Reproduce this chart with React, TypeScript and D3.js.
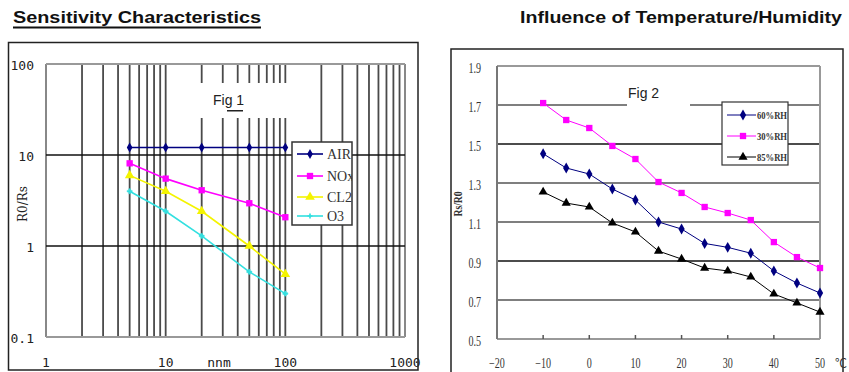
import React from 'react';
import * as d3 from 'd3';

// ---------- Fig 1 data ----------
const gasConc = [5, 10, 20, 50, 100];
const airValues = [12.1, 12.1, 12.1, 12.1, 12.1];
const noxValues = [8.1, 5.5, 4.1, 2.95, 2.07];
const cl2Values = [5.97, 4.0, 2.41, 1.0, 0.49];
const o3Values = [4.0, 2.41, 1.29, 0.52, 0.3];
const yTicksLeft = [100, 10, 1, 0.1];
const xTicksLeft = [1, 10, 100, 1000];

// ---------- Fig 2 data ----------
const temps = [-10, -5, 0, 5, 10, 15, 20, 25, 30, 35, 40, 45, 50];
const rh60 = [1.45, 1.377, 1.346, 1.269, 1.213, 1.1, 1.064, 0.99, 0.97, 0.94, 0.849, 0.787, 0.736];
const rh30 = [1.71, 1.623, 1.582, 1.49, 1.423, 1.305, 1.249, 1.177, 1.146, 1.11, 0.997, 0.92, 0.864];
const rh85 = [1.254, 1.197, 1.177, 1.095, 1.049, 0.951, 0.91, 0.864, 0.849, 0.818, 0.731, 0.685, 0.638];
const yTicksRight = [0.5, 0.7, 0.9, 1.1, 1.3, 1.5, 1.7, 1.9];
const xTicksRight = [-20, -10, 0, 10, 20, 30, 40, 50];

const leftSeries = [
  { name: 'AIR', values: airValues, color: '#000080', symbol: d3.symbolDiamond, size: 28 },
  { name: 'NOx', values: noxValues, color: '#ff00ff', symbol: d3.symbolSquare, size: 40 },
  { name: 'CL2', values: cl2Values, color: '#f4f400', symbol: d3.symbolTriangle, size: 40 },
  { name: 'O3', values: o3Values, color: '#33e0e0', symbol: d3.symbolCross, size: 14 },
];

const rightSeries = [
  { name: '60%RH', values: rh60, color: '#000080', symbol: d3.symbolDiamond, size: 34 },
  { name: '30%RH', values: rh30, color: '#ff00ff', symbol: d3.symbolSquare, size: 40 },
  { name: '85%RH', values: rh85, color: '#000000', symbol: d3.symbolTriangle, size: 36 },
];

export default function App() {
  // Left scales
  const xL = d3.scaleLog().domain([1, 1000]).range([46, 405]);
  const yL = d3.scaleLog().domain([0.1, 100]).range([337, 64]);
  const vLines: number[] = [];
  for (let d = 1; d < 1000; d *= 10) for (let k = 1; k <= 9; k++) vLines.push(d * k);
  vLines.push(1000);

  // Right scales
  const xR = d3.scaleLinear().domain([-20, 50]).range([497, 820]);
  const yR = d3.scaleLinear().domain([0.5, 1.9]).range([339, 66]);

  const lineL = (vals: number[]) =>
    d3.line<number>().x((_, i) => xL(gasConc[i])).y((v) => yL(v))(vals) || '';
  const lineR = (vals: number[]) =>
    d3.line<number>().x((_, i) => xR(temps[i])).y((v) => yR(v))(vals) || '';

  const legL = { x: 292, y: 142, w: 60, h: 83 };
  const legLRows = [154, 176, 197, 216];
  const legR = { x: 722, y: 102, w: 66, h: 63 };
  const legRRows = [115, 136, 157];

  const darkLines = [0.9, 1.5];

  return (
    <div style={{ position: 'absolute', left: 0, top: 0 }}>
      <svg width={849} height={372} style={{ display: 'block', background: '#fff' }}>
        <defs>
          <clipPath id="legLclip">
            <rect x={legL.x} y={legL.y} width={legL.w} height={legL.h} />
          </clipPath>
        </defs>
        {/* Titles */}
        <text x={13} y={23} fontFamily="Liberation Sans, Arial, sans-serif" fontWeight="bold" fontSize={16}
          textLength={248} lengthAdjust="spacingAndGlyphs" fill="#111">Sensitivity Characteristics</text>
        <rect x={13} y={26.5} width={248} height={2} fill="#111" />
        <text x={520} y={23} fontFamily="Liberation Sans, Arial, sans-serif" fontWeight="bold" fontSize={16}
          textLength={322} lengthAdjust="spacingAndGlyphs" fill="#111">Influence of Temperature/Humidity</text>

        {/* ---------------- Left chart ---------------- */}
        <rect x={8.5} y={42.5} width={409.5} height={327.5} fill="#fff" stroke="#222" strokeWidth={1.5} />
        {vLines.map((v, i) => (
          <line key={'v' + i} x1={xL(v)} x2={xL(v)} y1={yL(100)} y2={yL(0.1)}
            stroke={v === 1 || v === 1000 ? '#888' : '#4a4a4a'} strokeWidth={v === 1 || v === 1000 ? 2 : 1.8} />
        ))}
        {yTicksLeft.map((t) => (
          <line key={'h' + t} x1={xL(1)} x2={xL(1000)} y1={yL(t)} y2={yL(t)}
            stroke={t === 10 || t === 1 ? '#111' : '#999'} strokeWidth={t === 10 || t === 1 ? 1.5 : 2} />
        ))}
        {/* Fig 1 label box */}
        <rect x={170} y={83} width={120} height={35} fill="#fff" />
        <text x={213} y={105} fontFamily="Liberation Sans, Arial, sans-serif" fontSize={14} fill="#222">Fig 1</text>
        <rect x={227} y={110} width={16} height={1.5} fill="#222" />

        {yTicksLeft.map((t) => (
          <text key={'yl' + t} x={34} y={yL(t) + 6} textAnchor="end" fontFamily="DejaVu Sans Mono, monospace"
            fontSize={13} fill="#222">{String(t)}</text>
        ))}
        {xTicksLeft.map((t) => (
          <text key={'xl' + t} x={xL(t)} y={367} textAnchor="middle" fontFamily="DejaVu Sans Mono, monospace"
            fontSize={13} fill="#222">{String(t)}</text>
        ))}
        <text x={219} y={367} textAnchor="middle" fontFamily="DejaVu Sans Mono, monospace" fontSize={13} fill="#222">nnm</text>
        <text transform="translate(27,204) rotate(-90)" textAnchor="middle" fontFamily="DejaVu Serif, serif"
          fontSize={12} fill="#222">R0/Rs</text>

        {leftSeries.map((s) => (
          <g key={s.name}>
            <path d={lineL(s.values)} fill="none" stroke={s.color} strokeWidth={1.6} />
            {s.values.map((v, i) => (
              <path key={i} transform={`translate(${xL(gasConc[i])},${yL(v)})`}
                d={d3.symbol().type(s.symbol).size(s.size)() || ''} fill={s.color}
                stroke={s.symbol === d3.symbolCross ? s.color : 'none'} strokeWidth={0.5} />
            ))}
          </g>
        ))}

        {/* Left legend */}
        <rect x={legL.x} y={legL.y} width={legL.w} height={legL.h} fill="#fff" stroke="#333" strokeWidth={1.5} />
        <g clipPath="url(#legLclip)">
          {leftSeries.map((s, i) => (
            <g key={'lg' + s.name}>
              <line x1={297} x2={323} y1={legLRows[i]} y2={legLRows[i]} stroke={s.color} strokeWidth={1.6} />
              <path transform={`translate(310,${legLRows[i]})`} d={d3.symbol().type(s.symbol).size(s.size)() || ''}
                fill={s.color} />
              <text x={327} y={legLRows[i] + 5} fontFamily="Liberation Serif, Times New Roman, serif" fontSize={14}
                fill="#333">{s.name}</text>
            </g>
          ))}
        </g>

        {/* ---------------- Right chart ---------------- */}
        <rect x={451} y={49} width={392} height={330} fill="#fff" stroke="#222" strokeWidth={1.5} />
        {yTicksRight.map((t) => {
          const edge = t === 0.5 || t === 1.9;
          return (
            <line key={'rh' + t} x1={xR(-20)} x2={xR(50)} y1={yR(t)} y2={yR(t)}
              stroke={edge ? '#999' : darkLines.includes(t) ? '#111' : '#555'} strokeWidth={edge ? 2 : 1.6} />
          );
        })}
        <line x1={xR(-20)} x2={xR(-20)} y1={yR(1.9)} y2={yR(0.5)} stroke="#777" strokeWidth={2} />
        <line x1={xR(50)} x2={xR(50)} y1={yR(1.9)} y2={yR(0.5)} stroke="#999" strokeWidth={2} />
        {xTicksRight.slice(1, -1).map((t) => (
          <line key={'rt' + t} x1={xR(t)} x2={xR(t)} y1={yR(0.5)} y2={yR(0.5) - 4} stroke="#555" strokeWidth={1.5} />
        ))}
        {/* Fig 2 label box */}
        <rect x={627} y={84} width={63} height={26} fill="#fff" />
        <text x={628} y={98} fontFamily="Liberation Sans, Arial, sans-serif" fontSize={14} fill="#222">Fig 2</text>

        {yTicksRight.map((t) => (
          <text key={'yr' + t} transform={`translate(481,${yR(t) + 7}) scale(0.72,1)`} textAnchor="end"
            fontFamily="Liberation Serif, Times New Roman, serif" fontSize={14} fill="#333">{t.toFixed(1)}</text>
        ))}
        {xTicksRight.map((t) => (
          <text key={'xr' + t} transform={`translate(${xR(t)},368) scale(0.72,1)`} textAnchor="middle"
            fontFamily="Liberation Serif, Times New Roman, serif" fontSize={14} fill="#333">{t < 0 ? '−' + Math.abs(t) : String(t)}</text>
        ))}
        <text x={841} y={368} textAnchor="middle" fontFamily="Noto Sans CJK SC, sans-serif" fontSize={12} fill="#333">℃</text>
        <text transform="translate(462,204) rotate(-90) scale(0.8,1)" textAnchor="middle"
          fontFamily="Liberation Serif, Times New Roman, serif" fontWeight="bold" fontSize={12} fill="#333">Rs/R0</text>

        {rightSeries.map((s) => (
          <g key={s.name}>
            <path d={lineR(s.values)} fill="none" stroke={s.color} strokeWidth={1} />
            {s.values.map((v, i) => (
              <path key={i} transform={`translate(${xR(temps[i])},${yR(v)})`}
                d={d3.symbol().type(s.symbol).size(s.size)() || ''} fill={s.color} />
            ))}
          </g>
        ))}

        {/* Right legend */}
        <rect x={legR.x} y={legR.y} width={legR.w} height={legR.h} fill="#fff" stroke="#333" strokeWidth={1.2} />
        {rightSeries.map((s, i) => (
          <g key={'rg' + s.name}>
            <line x1={727} x2={756} y1={legRRows[i]} y2={legRRows[i]} stroke={s.color} strokeWidth={1} />
            <path transform={`translate(743,${legRRows[i]})`} d={d3.symbol().type(s.symbol).size(s.size)() || ''}
              fill={s.color} />
            <text x={757} y={legRRows[i] + 3.5} textLength={30} lengthAdjust="spacingAndGlyphs"
              fontFamily="Liberation Serif, Times New Roman, serif" fontWeight="bold" fontSize={10} fill="#333">{s.name}</text>
          </g>
        ))}
      </svg>
    </div>
  );
}
